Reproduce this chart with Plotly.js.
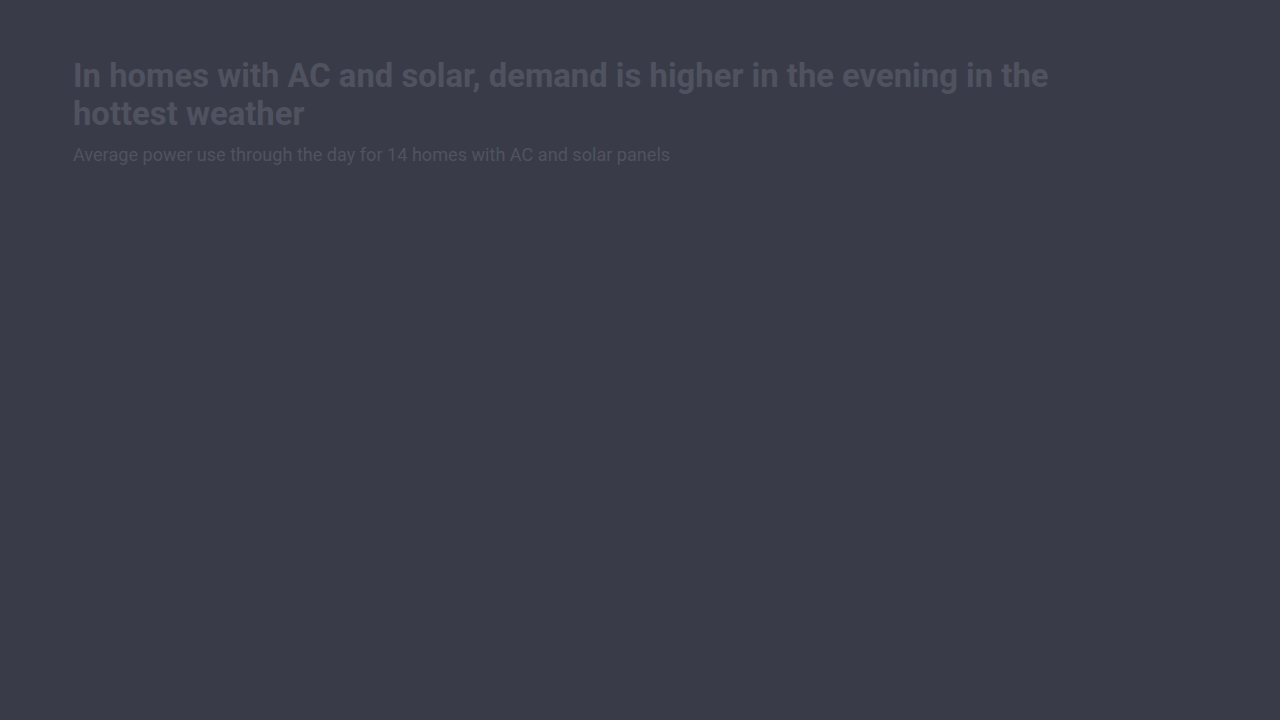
<!DOCTYPE html>
<html>
<head>
<meta charset="utf-8">
<script src="https://cdn.plot.ly/plotly-3.0.1.min.js"></script>
<style>
  html, body { margin: 0; padding: 0; background: #393c48; }
  #graph { width: 1280px; height: 720px; }
</style>
</head>
<body>
<div id="graph"></div>
<script>
// chart texts
const titleLines = [
    'In homes with AC and solar, demand is higher in the evening in the',
    'hottest weather'
];
const subtitleText = 'Average power use through the day for 14 homes with AC and solar panels';

// the plot area of the reference is empty: no series are drawn
const hours = [];
const demand = [];

const bg = '#393c48';
const textColor = '#50535f';

const W = 1280, H = 720;
const margin = {l: 73, r: 60, t: 200, b: 60};

// pixel row (from top of page) -> paper y
function py(px) {
    return 1 + (margin.t - px) / (H - margin.t - margin.b);
}

function textLine(text, top, size, bold) {
    return {
        text: bold ? '<b>' + text + '</b>' : text,
        xref: 'paper',
        yref: 'paper',
        x: 0,
        y: py(top),
        xanchor: 'left',
        yanchor: 'middle',
        xshift: -2,
        showarrow: false,
        font: {family: 'Roboto', size: size, color: textColor}
    };
}

const trace = {
    x: hours,
    y: demand,
    type: 'scatter',
    mode: 'lines',
    showlegend: false
};

const layout = {
    width: W,
    height: H,
    margin: margin,
    paper_bgcolor: bg,
    plot_bgcolor: bg,
    xaxis: {visible: false},
    yaxis: {visible: false},
    annotations: [
        textLine(titleLines[0], 76, 32.8, true),
        textLine(titleLines[1], 114, 32.8, true),
        textLine(subtitleText, 154.5, 18.1, false)
    ]
};

Plotly.newPlot('graph', [trace], layout, {displayModeBar: false, staticPlot: true});
</script>
</body>
</html>
